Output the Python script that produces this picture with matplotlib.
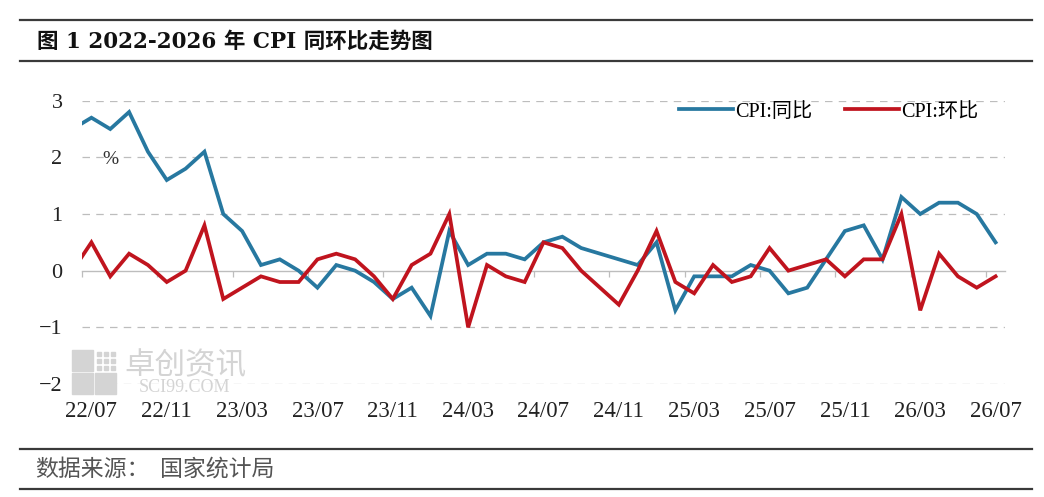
import matplotlib
matplotlib.use("Agg")
import matplotlib.pyplot as plt
from matplotlib.lines import Line2D
from matplotlib.patches import Rectangle

# ---- data ----
months = ["22/06", "22/07", "22/08", "22/09", "22/10", "22/11", "22/12",
          "23/01", "23/02", "23/03", "23/04", "23/05", "23/06", "23/07", "23/08", "23/09", "23/10", "23/11", "23/12",
          "24/01", "24/02", "24/03", "24/04", "24/05", "24/06", "24/07", "24/08", "24/09", "24/10", "24/11", "24/12",
          "25/01", "25/02", "25/03", "25/04", "25/05", "25/06", "25/07", "25/08", "25/09", "25/10", "25/11", "25/12",
          "26/01", "26/02", "26/03", "26/04", "26/05", "26/06", "26/07"]
cpi_yoy = [2.5, 2.7, 2.5, 2.8, 2.1, 1.6, 1.8,
           2.1, 1.0, 0.7, 0.1, 0.2, 0.0, -0.3, 0.1, 0.0, -0.2, -0.5, -0.3,
           -0.8, 0.7, 0.1, 0.3, 0.3, 0.2, 0.5, 0.6, 0.4, 0.3, 0.2, 0.1,
           0.5, -0.7, -0.1, -0.1, -0.1, 0.1, 0.0, -0.4, -0.3, 0.2, 0.7, 0.8,
           0.2, 1.3, 1.0, 1.2, 1.2, 1.0, 0.5]
cpi_mom = [0.0, 0.5, -0.1, 0.3, 0.1, -0.2, 0.0,
           0.8, -0.5, -0.3, -0.1, -0.2, -0.2, 0.2, 0.3, 0.2, -0.1, -0.5, 0.1,
           0.3, 1.0, -1.0, 0.1, -0.1, -0.2, 0.5, 0.4, 0.0, -0.3, -0.6, 0.0,
           0.7, -0.2, -0.4, 0.1, -0.2, -0.1, 0.4, 0.0, 0.1, 0.2, -0.1, 0.2,
           0.2, 1.0, -0.7, 0.3, -0.1, -0.3, -0.1]
tick_labels = ["22/07", "22/11", "23/03", "23/07", "23/11", "24/03", "24/07",
               "24/11", "25/03", "25/07", "25/11", "26/03", "26/07"]
y_ticks = [-2, -1, 0, 1, 2, 3]
series_names = ["CPI:同比", "CPI:环比"]
title = "图 1 2022-2026 年 CPI 同环比走势图"
source_label = "数据来源："
source_value = "国家统计局"

BLUE = "#2778A0"
RED = "#C0141E"
W, H = 1044, 497

fig = plt.figure(figsize=(W / 100, H / 100), dpi=100)
ax = fig.add_axes([82 / W, 1 - 384 / H, (1005 - 82) / W, (384 - 100.7) / H])

x = list(range(len(months)))
ax.plot(x, cpi_yoy, color=BLUE, lw=2.7, solid_joinstyle="miter", zorder=3)
ax.plot(x, cpi_mom, color=RED, lw=2.7, solid_joinstyle="miter", zorder=4)

ax.set_xlim(0.5, len(months) - 0.5)
ax.set_ylim(-2, 3)

# gridlines
for v in y_ticks:
    if v != 0:
        ax.axhline(v, color="#BDBDBD", lw=0.9, ls=(0, (6, 5)), zorder=1)

for s in ax.spines.values():
    s.set_visible(False)

serif = ["Liberation Serif", "Noto Sans CJK SC"]
ax.set_yticks(y_ticks)
ax.set_yticklabels([("\u2212" + str(-v)) if v < 0 else str(v) for v in y_ticks],
                   fontsize=16, family=serif, color="#222222")
ax.tick_params(axis="y", length=0, pad=14)

lab_pos = [months.index(t) for t in tick_labels]
ax.set_xticks(lab_pos)
ax.set_xticklabels(tick_labels, fontsize=16.5, family=serif, color="#222222")
ax.tick_params(axis="x", length=0, pad=12)

# zero axis line with tick marks at category boundaries
sec = ax.secondary_xaxis(0.4)
sec.set_xticks([p - 0.5 for p in lab_pos])
sec.set_xticklabels([])
sec.tick_params(axis="x", length=4, width=0.9, color="#BDBDBD", direction="out")
sec.spines["bottom"].set_color("#BDBDBD")
sec.spines["bottom"].set_linewidth(1.0)

# percent label
fig.text(110 / W, 1 - 160 / H, "%", fontsize=14, family=serif, color="#333333",
         ha="center", va="center")

# legend
handles = [Line2D([], [], color=BLUE, lw=2.7), Line2D([], [], color=RED, lw=2.7)]
fig.legend(handles, series_names, loc="center left",
           bbox_to_anchor=(679 / W, 1 - 112 / H), bbox_transform=fig.transFigure,
           ncol=2, frameon=False, prop={"family": serif, "size": 14.5},
           handlelength=2.7, handletextpad=0.1, columnspacing=1.6,
           borderpad=0, borderaxespad=0)

# watermark
wm = "#D4D4D4"
for (x0, y0, w, h) in [(72, 350, 21, 21), (72, 373, 21, 21), (95, 373, 21, 21)]:
    fig.patches.append(Rectangle((x0 / W, 1 - (y0 + h) / H), w / W, h / H,
                                 transform=fig.transFigure, color=wm, zorder=0))
for i in range(3):
    for j in range(3):
        fig.patches.append(Rectangle(((97 + 7 * i) / W, 1 - (352 + 7 * j + 4) / H), 4 / W, 4 / H,
                                     transform=fig.transFigure, color=wm, zorder=0))
fig.text(185 / W, 1 - 366 / H, "卓创资讯", fontsize=22, family="Noto Sans CJK SC",
         color=wm, ha="center", va="center", zorder=0)
fig.text(185 / W, 1 - 388 / H, "SCI99.COM", fontsize=13, family="Liberation Serif",
         color=wm, ha="center", va="center", zorder=0)

# header / footer rules
for yy in (20, 61, 449, 489):
    fig.add_artist(Line2D([20 / W, 1032 / W], [1 - yy / H, 1 - yy / H],
                          transform=fig.transFigure, color="#3A3A3A", lw=1.6))

fig.text(37 / W, 1 - 42 / H, title, fontsize=15.5, fontweight="bold",
         family=["DejaVu Serif", "Noto Sans CJK SC"], color="#111111",
         ha="left", va="center")
fig.text(35 / W, 1 - 469 / H, source_label, fontsize=16.5, family="Noto Sans CJK SC",
         color="#555555", ha="left", va="center")
fig.text(160 / W, 1 - 469 / H, source_value, fontsize=16.5, family="Noto Sans CJK SC",
         color="#555555", ha="left", va="center")

fig.savefig("out.png", dpi=100)
